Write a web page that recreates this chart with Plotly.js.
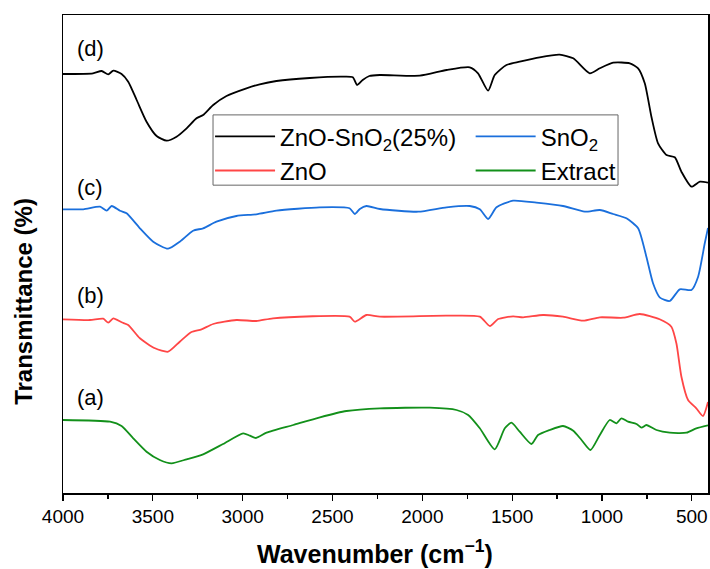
<!DOCTYPE html>
<html>
<head>
<meta charset="utf-8">
<script src="https://cdn.plot.ly/plotly-3.0.1.min.js"></script>
<style>html,body{margin:0;padding:0;background:#fff;}#chart{width:710px;height:569px;}</style>
</head>
<body>
<div id="chart"></div>
<script>
// Series names
const seriesNames = ["ZnO-SnO<sub>2</sub>(25%)", "SnO<sub>2</sub>", "ZnO", "Extract"];
const curveLabels = ["(d)", "(c)", "(b)", "(a)"];
const xTitle = "<b>Wavenumber (cm<sup>−1</sup>)</b>";
const yTitle = "<b>Transmittance (%)</b>";

// (d) ZnO-SnO2(25%) — wavenumber (cm^-1) and offset transmittance (a.u.)
const wnD = [4000,3833,3785,3748,3720,3674,3637,3590,3535,3479,3423,3368,3312,3257,3220,3164,3090,2979,2905,2812,2627,2443,2387,2363,2332,2295,2236,2014,1865,1736,1690,1634,1597,1532,1458,1347,1236,1160,1068,1012,938,845,799,762,725,688,641,595,558,502,455,410];
const tD  = [419,419.7,422,418.7,422.3,419,411.3,393,371.3,357,352.3,356.3,364.7,374.7,378,388,397,404.7,408.7,412,415,416.3,415.7,408,413,417,418,417.3,423,425.7,419.7,402.3,418,428,431.3,435.7,438.3,434.7,419.7,424.7,430.3,429.7,424.7,409.7,376.3,349.7,338,335.7,321.3,306.3,311.3,310.3];

// (c) SnO2
const wnC = [4000,3887,3794,3757,3729,3683,3646,3572,3498,3415,3350,3276,3220,3146,3035,2924,2812,2572,2405,2376,2348,2311,2236,2023,1865,1736,1680,1634,1587,1495,1365,1217,1096,1012,938,864,799,753,716,679,623,567,502,465,428,410];
const tC  = [283.7,283.7,286.3,282.3,287,282.3,279.7,264.7,251.3,244.3,251.3,262.3,264.7,271.3,277,278.7,282.3,285.7,284.7,279,284,287,284,281.3,285.7,287,283.7,274,285.7,292.3,290.3,287,281.3,283,279,274.7,264.7,236.3,209.7,195.7,192,203.7,203,216.3,249.7,265];

// (b) ZnO
const wnB = [4000,3850,3776,3748,3720,3674,3637,3572,3488,3415,3350,3285,3229,3164,3035,2924,2831,2405,2376,2311,2236,1865,1680,1624,1578,1495,1439,1328,1217,1105,1012,882,790,679,614,586,558,521,475,438,410];
const tB  = [173.7,173,174.3,170.3,174.7,170.7,168,154.7,144.7,141.3,151.3,161,163.7,169,173,172,174.7,176.3,171.3,178,176.3,177.3,176.3,167,174,176.7,175.7,178,176.3,172.3,175.7,175.3,179,173.7,166.3,149.7,116.3,93,84.7,77,91];

// (a) Extract
const wnA = [4000,3738,3674,3609,3535,3461,3396,3312,3220,3109,2997,2960,2926,2867,2718,2570,2422,2236,1958,1810,1745,1680,1597,1541,1504,1458,1393,1356,1291,1217,1160,1114,1064,1012,957,919,892,855,808,780,753,697,623,530,475,410];
const tA  = [73,71.3,67,54.7,41.3,33,29.7,33.7,38.7,49,59.7,57.3,55,60.3,68,75.7,82,84.7,85.3,83,78,64.7,43.7,64.7,70.3,61.3,49,58,63,67,62.3,53,43,58,73,69.7,74.7,71.3,69,65.3,68,63,60.3,60.3,64.7,67.7];

// Axis ticks
const tickVals = [4000,3500,3000,2500,2000,1500,1000,500];
const tickText = ["4000","3500","3000","2500","2000","1500","1000","500"];

const colors = ["#000000", "#1a6fdc", "#ff4646", "#12901a"];
const legendIds = ["legend", "legend2", "legend", "legend2"];
const xs = [wnD, wnC, wnB, wnA];
const ys = [tD, tC, tB, tA];

const traces = xs.map((x, i) => ({
  x: x, y: ys[i], type: "scatter", mode: "lines", name: seriesNames[i],
  legend: legendIds[i],
  line: {color: colors[i], width: 1.8, shape: "spline", smoothing: 0.6}
}));

const font = "Liberation Sans, Arial, sans-serif";
const labelY = [0.929, 0.640, 0.414, 0.199];
const annotations = curveLabels.map((t, i) => ({
  text: t, xref: "paper", yref: "paper", x: 0.018, y: labelY[i],
  xanchor: "left", yanchor: "middle", showarrow: false,
  font: {family: font, size: 22, color: "#000"}
}));
annotations.push({
  text: xTitle, xref: "paper", yref: "paper", x: 0.484, y: -0.124,
  xanchor: "center", yanchor: "middle", showarrow: false,
  font: {family: font, size: 25, color: "#000"}
});
annotations.push({
  text: yTitle, xref: "paper", yref: "paper", x: -0.0605, y: 0.402, textangle: -90,
  xanchor: "center", yanchor: "middle", showarrow: false,
  font: {family: font, size: 24, color: "#000"}
});

const legStyle = (x) => ({
  orientation: "v", x: x, y: 0.7925, xanchor: "left", yanchor: "top",
  bgcolor: "rgba(0,0,0,0)", borderwidth: 0,
  font: {family: font, size: 24, color: "#000"},
  traceorder: "normal", itemwidth: 60, tracegroupgap: 0
});

const layout = {
  width: 710, height: 569,
  margin: {l: 63, r: 2, t: 15, b: 76},
  paper_bgcolor: "#fff", plot_bgcolor: "#fff",
  showlegend: true,
  legend: legStyle(0.228),
  legend2: legStyle(0.632),
  shapes: [{
    type: "rect", xref: "paper", yref: "paper",
    x0: 0.2326, x1: 0.8605, y0: 0.644, y1: 0.791,
    line: {color: "#666", width: 1}, fillcolor: "rgba(0,0,0,0)"
  }],
  xaxis: {
    range: [4000, 410], autorange: false, automargin: false,
    tickvals: tickVals, ticktext: tickText,
    ticks: "outside", ticklen: 6, tickwidth: 1.3, tickcolor: "#000",
    minor: {dtick: 250, tick0: 0, ticks: "outside", ticklen: 4, tickwidth: 1.2, tickcolor: "#000"},
    showline: true, linecolor: "#000", linewidth: 1.5, mirror: true,
    showgrid: false, zeroline: false,
    tickfont: {family: font, size: 19, color: "#000"}
  },
  yaxis: {
    range: [0, 478], autorange: false, automargin: false,
    showticklabels: false, ticks: "",
    showline: true, linecolor: "#000", linewidth: 1.5, mirror: true,
    showgrid: false, zeroline: false
  },
  annotations: annotations
};

Plotly.newPlot("chart", traces, layout, {displayModeBar: false, staticPlot: true});
</script>
</body>
</html>
